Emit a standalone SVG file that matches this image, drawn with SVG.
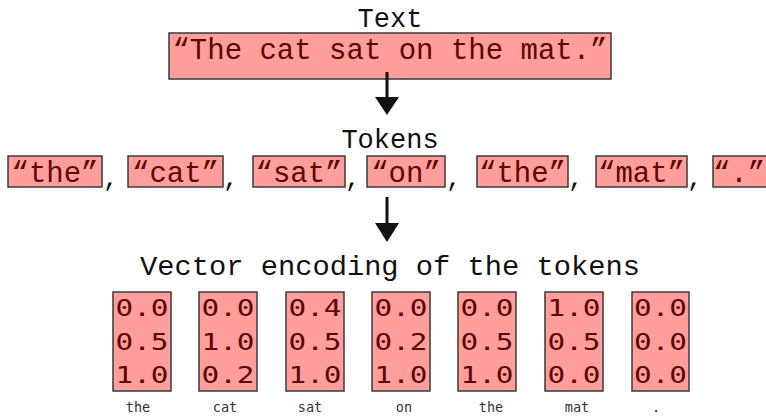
<svg xmlns="http://www.w3.org/2000/svg" width="766" height="420" viewBox="0 0 766 420">
<style>
.bg{fill:#ffffff}
.box{fill:#ff9e9b;stroke:#3a3a3a;stroke-width:1.5}
.title{font-family:"Liberation Mono","Courier New",monospace;font-size:27px;fill:#111;text-anchor:middle}
.main{font-family:"Liberation Mono","Courier New",monospace;font-size:29px;fill:#5c0505;text-anchor:middle}
.tok{font-family:"Liberation Mono","Courier New",monospace;font-size:29px;fill:#5c0505;text-anchor:middle}
.comma{font-family:"Liberation Mono","Courier New",monospace;font-size:26px;fill:#111}
.num{font-family:"DejaVu Sans Mono",monospace;font-size:23px;fill:#5c0505;text-anchor:middle}
.lbl{font-family:"DejaVu Sans Mono",monospace;font-size:13.5px;fill:#333;text-anchor:middle}
.arr{stroke:#111;stroke-width:3;fill:none}
</style>
<rect class="bg" x="0" y="0" width="766" height="420"/>

<g id="text-title"><text class="title" x="390" y="27">Text</text></g>
<g id="text-node">
<rect class="box" x="169" y="33" width="442" height="46"/>
<text class="main" x="390" y="59">“The cat sat on the mat.”</text>
</g>

<g id="tokens-title"><text class="title" x="390" y="148">Tokens</text></g>
<g id="tok-1"><rect class="box" x="8" y="156" width="94" height="31"/><text class="tok" x="55" y="182">“the”</text><text class="comma" x="103" y="186">,</text></g>
<g id="tok-2"><rect class="box" x="128" y="156" width="95" height="31"/><text class="tok" x="175.5" y="182">“cat”</text><text class="comma" x="223" y="186">,</text></g>
<g id="tok-3"><rect class="box" x="253" y="156" width="92" height="31"/><text class="tok" x="299" y="182">“sat”</text><text class="comma" x="345" y="186">,</text></g>
<g id="tok-4"><rect class="box" x="367" y="156" width="78" height="31"/><text class="tok" x="406" y="182">“on”</text><text class="comma" x="446" y="186">,</text></g>
<g id="tok-5"><rect class="box" x="477" y="156" width="91" height="31"/><text class="tok" x="522.5" y="182">“the”</text><text class="comma" x="568" y="186">,</text></g>
<g id="tok-6"><rect class="box" x="596" y="156" width="91" height="31"/><text class="tok" x="641.5" y="182">“mat”</text><text class="comma" x="687" y="186">,</text></g>
<g id="tok-7"><rect class="box" x="713" y="156" width="60" height="31"/><text class="tok" x="739" y="182">“.”</text></g>

<g id="vec-title"><text class="title" x="390" y="275" textLength="500" lengthAdjust="spacingAndGlyphs">Vector encoding of the tokens</text></g>

<g id="vec-1"><rect class="box" x="113" y="292" width="58" height="99"/>
<text class="num" x="142" y="316" textLength="53" lengthAdjust="spacingAndGlyphs">0.0</text>
<text class="num" x="142" y="350" textLength="53" lengthAdjust="spacingAndGlyphs">0.5</text>
<text class="num" x="142" y="383" textLength="53" lengthAdjust="spacingAndGlyphs">1.0</text>
<text class="lbl" x="138" y="412">the</text></g>
<g id="vec-2"><rect class="box" x="199" y="292" width="58" height="99"/>
<text class="num" x="228" y="316" textLength="53" lengthAdjust="spacingAndGlyphs">0.0</text>
<text class="num" x="228" y="350" textLength="53" lengthAdjust="spacingAndGlyphs">1.0</text>
<text class="num" x="228" y="383" textLength="53" lengthAdjust="spacingAndGlyphs">0.2</text>
<text class="lbl" x="225" y="412">cat</text></g>
<g id="vec-3"><rect class="box" x="286" y="292" width="58" height="99"/>
<text class="num" x="315" y="316" textLength="53" lengthAdjust="spacingAndGlyphs">0.4</text>
<text class="num" x="315" y="350" textLength="53" lengthAdjust="spacingAndGlyphs">0.5</text>
<text class="num" x="315" y="383" textLength="53" lengthAdjust="spacingAndGlyphs">1.0</text>
<text class="lbl" x="310" y="412">sat</text></g>
<g id="vec-4"><rect class="box" x="372" y="292" width="58" height="99"/>
<text class="num" x="401" y="316" textLength="53" lengthAdjust="spacingAndGlyphs">0.0</text>
<text class="num" x="401" y="350" textLength="53" lengthAdjust="spacingAndGlyphs">0.2</text>
<text class="num" x="401" y="383" textLength="53" lengthAdjust="spacingAndGlyphs">1.0</text>
<text class="lbl" x="404" y="412">on</text></g>
<g id="vec-5"><rect class="box" x="458" y="292" width="58" height="99"/>
<text class="num" x="487" y="316" textLength="53" lengthAdjust="spacingAndGlyphs">0.0</text>
<text class="num" x="487" y="350" textLength="53" lengthAdjust="spacingAndGlyphs">0.5</text>
<text class="num" x="487" y="383" textLength="53" lengthAdjust="spacingAndGlyphs">1.0</text>
<text class="lbl" x="491" y="412">the</text></g>
<g id="vec-6"><rect class="box" x="545" y="292" width="58" height="99"/>
<text class="num" x="574" y="316" textLength="53" lengthAdjust="spacingAndGlyphs">1.0</text>
<text class="num" x="574" y="350" textLength="53" lengthAdjust="spacingAndGlyphs">0.5</text>
<text class="num" x="574" y="383" textLength="53" lengthAdjust="spacingAndGlyphs">0.0</text>
<text class="lbl" x="577" y="412">mat</text></g>
<g id="vec-7"><rect class="box" x="632" y="292" width="57" height="99"/>
<text class="num" x="660.5" y="316" textLength="53" lengthAdjust="spacingAndGlyphs">0.0</text>
<text class="num" x="660.5" y="350" textLength="53" lengthAdjust="spacingAndGlyphs">0.0</text>
<text class="num" x="660.5" y="383" textLength="53" lengthAdjust="spacingAndGlyphs">0.0</text>
<text class="lbl" x="656" y="412">.</text></g>

<g id="connectors">
<line class="arr" x1="387" y1="72" x2="387" y2="100"/>
<path d="M375,97 L399,97 L387,115 Z" fill="#111"/>
<line class="arr" x1="387" y1="197" x2="387" y2="226"/>
<path d="M375,223 L399,223 L387,242 Z" fill="#111"/>
</g>
</svg>
